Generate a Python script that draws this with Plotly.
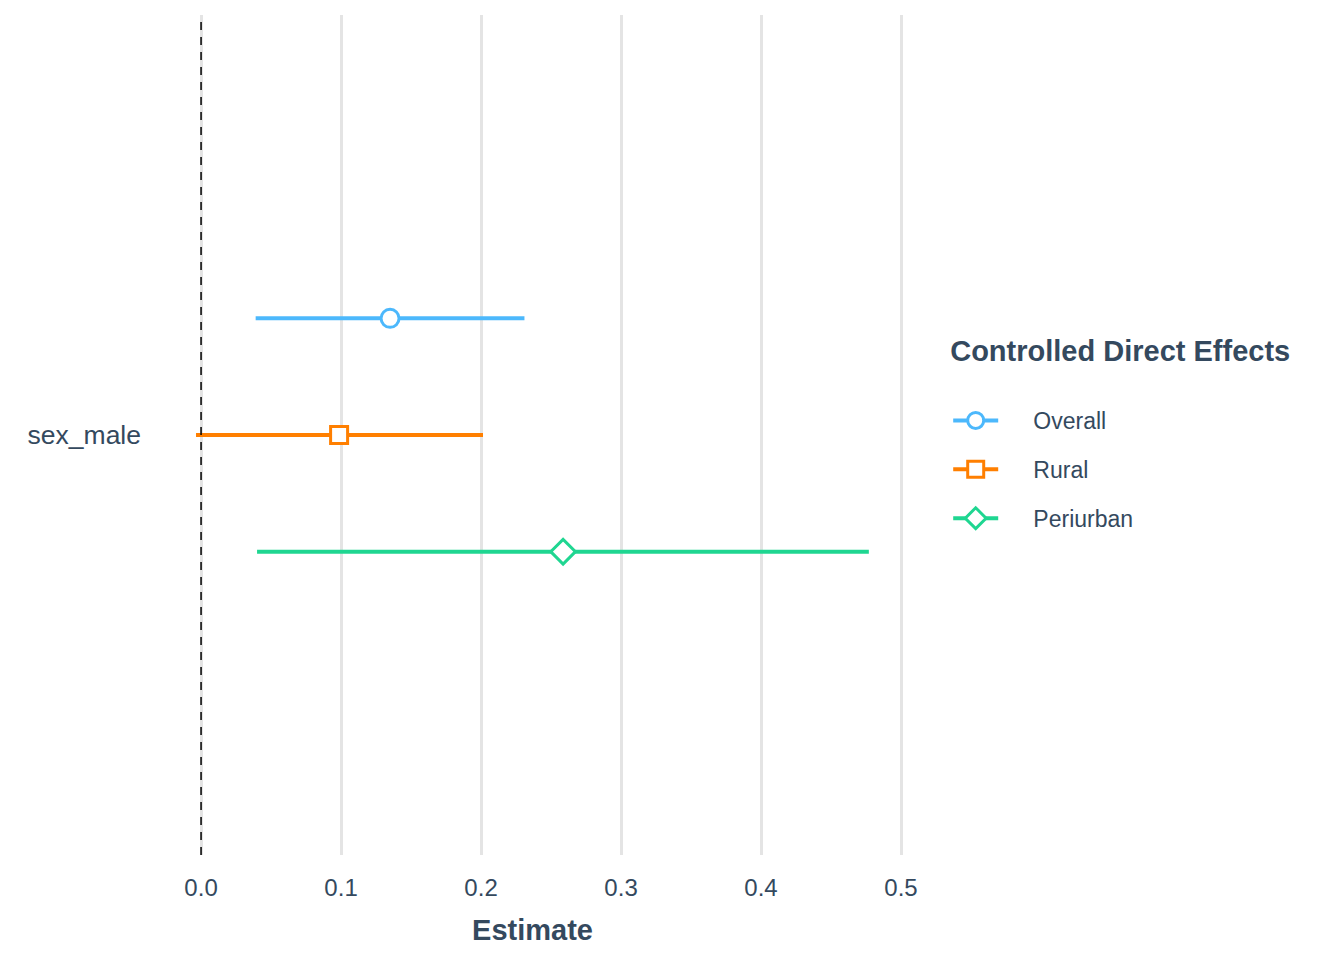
import plotly.graph_objects as go

# ---- data ----
term = "sex_male"
series = ["Overall", "Rural", "Periurban"]
estimate = [0.135, 0.0986, 0.2586]
conf_low = [0.039, -0.0036, 0.040]
conf_high = [0.231, 0.2014, 0.477]
x_ticks = [0.0, 0.1, 0.2, 0.3, 0.4, 0.5]
x_tick_labels = ["0.0", "0.1", "0.2", "0.3", "0.4", "0.5"]
ref_line = 0.0

# ---- styles ----
colors = ["#4CB8FC", "#FF7F00", "#1FD691"]
symbols = ["circle", "square", "diamond"]
marker_sizes = [18, 17, 19]
text_color = "#34495E"
font_family = "Liberation Sans, Arial, sans-serif"
dodge_width = 1 / 3  # spacing between dodged series (category units)
legend_pad = "&nbsp;" * 4 + "&#8201;"

fig = go.Figure()
n = len(series)
for i, name in enumerate(series):
    offset = ((n - 1) / 2 - i) * dodge_width / 2
    fig.add_trace(go.Scatter(
        x=[estimate[i]], y=[offset], name=legend_pad + name,
        mode="lines+markers", legendgroup=name,
        line=dict(color=colors[i], width=4),
        marker=dict(symbol=symbols[i], size=marker_sizes[i],
                    color="white", line=dict(color=colors[i], width=3)),
        error_x=dict(type="data", symmetric=False,
                     array=[conf_high[i] - estimate[i]],
                     arrayminus=[estimate[i] - conf_low[i]],
                     width=0, thickness=4, color=colors[i]),
    ))

fig.add_shape(type="line", xref="x", yref="paper", x0=ref_line, x1=ref_line,
              y0=0, y1=1, line=dict(color="black", width=1.5, dash="8px,7px"),
              layer="above")

fig.update_layout(
    width=1344, height=960,
    margin=dict(l=154, r=449, t=7, b=113),
    paper_bgcolor="white", plot_bgcolor="white",
    font=dict(family=font_family, color=text_color, size=23),
    showlegend=True,
    legend=dict(
        title=dict(text="<b>Controlled Direct Effects</b><br> ",
                   font=dict(size=29, color=text_color)),
        x=1.061, xanchor="left", y=0.5035, yanchor="middle",
        font=dict(size=23, color=text_color),
        tracegroupgap=16, itemwidth=45,
    ),
    xaxis=dict(
        range=[-0.0279, 0.5014], tickvals=x_ticks, ticktext=x_tick_labels,
        showgrid=True, gridcolor="#E4E4E4", gridwidth=2.5, zeroline=False,
        showline=False, ticks="", ticklabelstandoff=16,
        tickfont=dict(size=24, color=text_color),
        title=dict(text="<b>Estimate</b>", font=dict(size=29, color=text_color),
                   standoff=19),
    ),
    yaxis=dict(
        range=[-0.6, 0.6], tickvals=[0], ticktext=[term],
        showgrid=False, zeroline=False, showline=False, ticks="",
        tickfont=dict(size=26.5, color=text_color), ticklabelstandoff=20,
    ),
)

fig.write_html("out.html")
